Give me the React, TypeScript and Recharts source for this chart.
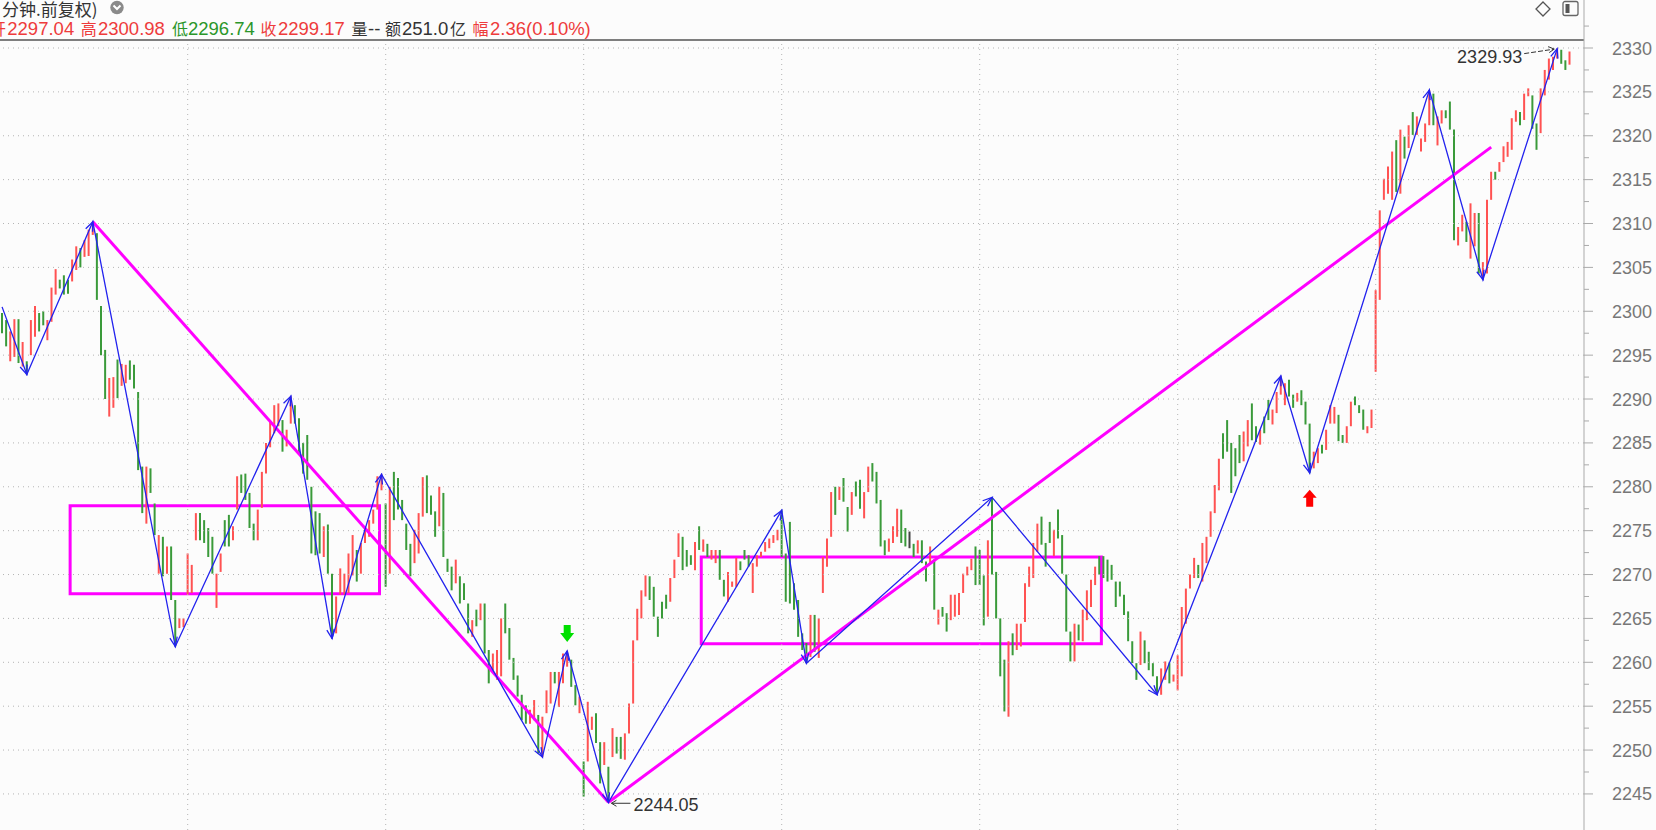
import React from "react";
import {
  ComposedChart,
  Bar,
  Cell,
  Line,
  XAxis,
  YAxis,
  ReferenceLine,
  ReferenceArea,
  ReferenceDot,
} from "recharts";

// 5-minute bars, 8 sessions (first one partial)
const lows = [
  2297.5, 2296.0, 2294.3, 2294.8, 2294.1, 2293.7, 2292.8, 2295.0, 2297.1, 2297.7,
  2298.4, 2296.7, 2298.8, 2301.9, 2302.6, 2301.9, 2302.0, 2303.4, 2304.7, 2305.0,
  2306.2, 2306.3, 2308.7, 2301.3, 2295.0, 2290.0, 2288.0, 2289.0, 2290.1, 2291.5,
  2291.8, 2292.2, 2291.2, 2281.9, 2277.0, 2275.8, 2279.3, 2274.5, 2270.1, 2269.8,
  2270.1, 2267.1, 2261.8, 2263.9, 2264.0, 2267.7, 2267.9, 2273.9, 2273.9, 2273.6,
  2272.0, 2270.1, 2266.2, 2270.3, 2273.2, 2273.2, 2273.9, 2277.4, 2279.3, 2278.5,
  2275.3, 2273.9, 2273.9, 2277.6, 2281.5, 2284.5, 2286.1, 2286.9, 2284.0, 2284.6,
  2287.2, 2287.2, 2283.8, 2281.5, 2280.8, 2272.4, 2272.2, 2272.4, 2272.0, 2270.1,
  2262.7, 2263.3, 2267.7, 2267.7, 2267.9, 2269.9, 2269.2, 2270.1, 2273.6, 2274.3,
  2275.8, 2277.4, 2279.6, 2268.6, 2270.1, 2276.2, 2277.4, 2276.2, 2272.8, 2269.8,
  2271.3, 2272.4, 2276.6, 2277.0, 2276.8, 2274.3, 2275.5, 2272.0, 2270.3, 2268.2,
  2269.0, 2266.7, 2267.1, 2263.3, 2262.9, 2264.1, 2264.8, 2261.0, 2257.6, 2259.1,
  2258.0, 2258.4, 2263.3, 2260.3, 2258.0, 2256.1, 2253.4, 2253.0, 2253.0, 2253.4,
  2249.6, 2249.2, 2254.2, 2255.3, 2257.6, 2254.9, 2257.6, 2259.5, 2257.2, 2255.1,
  2254.2, 2244.7, 2248.7, 2252.3, 2250.8, 2246.2, 2248.3, 2244.05, 2249.2, 2249.6,
  2249.0, 2248.9, 2251.9, 2255.3, 2262.5, 2265.0, 2267.5, 2267.1, 2265.2, 2262.9,
  2265.0, 2266.1, 2266.9, 2269.6, 2272.0, 2270.5, 2270.9, 2271.1, 2270.5, 2272.8,
  2272.6, 2272.0, 2271.7, 2271.3, 2269.4, 2267.5, 2266.9, 2268.6, 2268.6, 2270.5,
  2271.7, 2270.9, 2267.9, 2270.9, 2272.0, 2272.6, 2273.0, 2273.6, 2273.9, 2272.0,
  2266.9, 2266.7, 2266.0, 2262.9, 2261.4, 2259.9, 2260.6, 2261.2, 2260.5, 2267.9,
  2270.9, 2274.3, 2276.8, 2278.5, 2278.3, 2274.9, 2276.8, 2278.9, 2277.5, 2276.4,
  2279.4, 2280.6, 2278.1, 2273.2, 2272.2, 2272.6, 2273.6, 2274.3, 2273.6, 2273.2,
  2273.0, 2272.0, 2272.4, 2271.3, 2269.2, 2271.3, 2266.0, 2264.3, 2265.2, 2263.5,
  2264.8, 2265.2, 2265.4, 2267.9, 2269.9, 2270.5, 2268.8, 2268.8, 2264.2, 2265.2,
  2270.0, 2265.0, 2258.4, 2254.4, 2253.8, 2260.8, 2261.4, 2261.8, 2264.6, 2268.6,
  2269.6, 2272.6, 2273.4, 2270.9, 2273.6, 2272.1, 2274.1, 2270.1, 2263.5, 2260.1,
  2260.1, 2262.5, 2262.4, 2264.8, 2266.3, 2268.8, 2270.0, 2269.6, 2269.2, 2269.4,
  2266.3, 2267.5, 2265.4, 2262.4, 2259.9, 2258.0, 2259.7, 2259.9, 2259.1, 2258.4,
  2256.3, 2256.3, 2258.0, 2257.6, 2257.8, 2256.8, 2258.4, 2264.4, 2268.4, 2269.6,
  2269.6, 2269.2, 2271.3, 2274.3, 2277.0, 2279.6, 2283.2, 2284.0, 2279.3, 2281.2,
  2282.7, 2282.9, 2284.6, 2285.3, 2285.1, 2284.8, 2286.1, 2287.6, 2287.1, 2288.4,
  2290.5, 2289.3, 2290.3, 2289.0, 2289.7, 2289.3, 2287.1, 2281.6, 2282.1, 2282.7,
  2283.8, 2284.2, 2287.2, 2287.2, 2285.2, 2285.0, 2285.0, 2286.9, 2289.3, 2288.4,
  2286.5, 2286.1, 2286.7, 2293.1, 2301.3, 2312.7, 2313.4, 2312.7, 2313.6, 2313.4,
  2317.4, 2318.6, 2320.1, 2320.1, 2318.2, 2319.3, 2321.2, 2321.2, 2318.9, 2321.4,
  2322.0, 2320.7, 2308.1, 2307.5, 2309.1, 2307.9, 2306.0, 2307.4, 2304.3, 2303.6,
  2304.3, 2312.7, 2315.0, 2315.9, 2317.0, 2317.6, 2318.4, 2321.6, 2321.2, 2321.8,
  2324.5, 2320.8, 2318.4, 2320.3, 2324.6, 2326.4, 2327.5, 2328.8, 2328.2, 2327.5,
  2328.1,
];

const highs = [
  2299.8, 2299.0, 2297.7, 2299.1, 2299.1, 2296.5, 2294.3, 2299.0, 2300.6, 2299.8,
  2300.0, 2299.0, 2302.7, 2304.8, 2303.6, 2304.1, 2303.6, 2305.9, 2307.4, 2307.2,
  2308.1, 2309.3, 2310.2, 2308.9, 2300.6, 2295.6, 2292.4, 2292.5, 2294.5, 2294.0,
  2293.9, 2294.4, 2293.9, 2290.8, 2282.3, 2282.3, 2282.1, 2278.1, 2274.5, 2274.3,
  2273.2, 2273.2, 2267.1, 2265.0, 2265.0, 2272.4, 2271.1, 2277.0, 2277.0, 2276.2,
  2275.3, 2274.3, 2270.1, 2272.4, 2276.2, 2276.8, 2275.5, 2281.2, 2281.4, 2281.5,
  2279.3, 2275.8, 2277.4, 2281.7, 2285.0, 2287.5, 2289.3, 2289.5, 2287.6, 2286.5,
  2290.3, 2289.3, 2287.8, 2285.0, 2285.9, 2280.0, 2277.2, 2277.0, 2275.5, 2275.7,
  2270.1, 2267.5, 2270.7, 2270.1, 2272.4, 2274.5, 2272.8, 2273.6, 2275.5, 2276.2,
  2277.4, 2281.2, 2281.4, 2278.1, 2280.0, 2281.7, 2281.0, 2278.5, 2275.8, 2273.5,
  2275.1, 2277.0, 2281.1, 2281.3, 2279.0, 2277.2, 2280.0, 2279.3, 2271.8, 2270.9,
  2271.7, 2269.8, 2269.0, 2266.7, 2264.8, 2266.0, 2266.7, 2266.7, 2261.4, 2261.0,
  2261.4, 2265.0, 2266.7, 2263.9, 2260.5, 2258.5, 2256.3, 2255.1, 2254.6, 2255.7,
  2254.0, 2253.8, 2256.8, 2258.9, 2258.9, 2258.9, 2261.0, 2261.3, 2260.3, 2257.4,
  2256.1, 2248.7, 2255.5, 2253.8, 2254.2, 2250.9, 2250.9, 2248.1, 2252.5, 2251.5,
  2251.5, 2251.9, 2255.3, 2262.5, 2266.1, 2268.2, 2269.9, 2269.8, 2268.6, 2265.2,
  2266.9, 2267.7, 2269.6, 2271.7, 2274.7, 2274.3, 2272.8, 2272.2, 2273.7, 2275.5,
  2274.0, 2273.5, 2272.8, 2272.8, 2272.8, 2269.4, 2270.3, 2269.2, 2271.9, 2271.5,
  2272.8, 2272.2, 2271.3, 2272.2, 2272.6, 2273.7, 2274.1, 2274.5, 2275.1, 2277.3,
  2272.4, 2276.0, 2269.0, 2267.1, 2263.3, 2262.2, 2265.4, 2265.4, 2265.0, 2272.0,
  2274.1, 2279.4, 2280.0, 2280.0, 2281.0, 2277.7, 2279.4, 2280.6, 2280.8, 2279.4,
  2282.3, 2282.7, 2281.7, 2278.5, 2273.9, 2274.1, 2275.5, 2277.5, 2277.4, 2275.3,
  2274.9, 2273.5, 2273.9, 2273.9, 2271.5, 2273.2, 2271.7, 2266.0, 2266.3, 2265.6,
  2267.7, 2267.7, 2267.9, 2270.1, 2270.9, 2271.8, 2273.2, 2272.8, 2269.9, 2273.9,
  2278.8, 2270.3, 2265.0, 2260.3, 2262.4, 2263.3, 2264.4, 2264.4, 2269.0, 2270.9,
  2273.6, 2275.8, 2276.6, 2273.6, 2276.0, 2275.1, 2277.4, 2274.5, 2270.0, 2263.5,
  2264.4, 2264.3, 2266.0, 2268.2, 2269.4, 2270.9, 2272.1, 2272.1, 2271.7, 2271.1,
  2269.2, 2269.2, 2267.7, 2265.8, 2262.4, 2259.9, 2263.5, 2262.5, 2261.2, 2259.9,
  2258.4, 2259.3, 2260.1, 2259.9, 2258.6, 2260.8, 2266.3, 2268.4, 2270.0, 2271.9,
  2271.1, 2273.6, 2274.3, 2277.2, 2280.2, 2283.2, 2286.1, 2287.6, 2285.0, 2284.4,
  2285.9, 2286.3, 2287.6, 2289.5, 2286.9, 2286.5, 2288.0, 2289.9, 2288.8, 2290.8,
  2292.6, 2291.8, 2292.2, 2290.5, 2290.7, 2291.0, 2289.7, 2287.2, 2284.0, 2284.4,
  2284.8, 2286.5, 2289.3, 2289.1, 2288.2, 2285.9, 2286.9, 2289.7, 2290.3, 2289.3,
  2288.8, 2286.9, 2288.8, 2302.4, 2311.5, 2315.1, 2316.5, 2318.2, 2319.5, 2320.7,
  2319.9, 2321.2, 2322.7, 2322.2, 2319.7, 2321.4, 2325.2, 2324.8, 2322.2, 2322.9,
  2322.9, 2323.9, 2320.7, 2309.6, 2311.0, 2310.2, 2312.3, 2311.2, 2311.2, 2305.6,
  2312.7, 2315.9, 2315.9, 2317.0, 2318.8, 2319.3, 2322.0, 2322.9, 2322.7, 2324.8,
  2325.4, 2324.6, 2321.4, 2325.4, 2327.5, 2328.8, 2329.0, 2329.93, 2329.8, 2328.6,
  2329.6,
];

// r = up (red), g = down (green), k = flat
const dirs = (
  "ggrrgrgrrg" + "grrrgggrrg" + "rrrgggrrgr" + "rggggrggrg" + "rggrrrrrgg" +
  "ggrrggrrgg" + "ggrrrrrrgr" + "rgggggggrg" + "grrrrrgrrr" + "rrrgrggggg" +
  "rrrgggrggg" + "rgggrgrggr" + "rrggggggrr" + "grrrgrrrgg" + "rgrrggrgrg" +
  "grrrrrrggg" + "ggrrrgggrg" + "rgrrggrrrg" + "ggrrrrrrrg" + "ggggggrgrr" +
  "rrgrggrggr" + "rggggrrrgg" + "kgrggrgrgg" + "rrrrrrgggr" + "ggggrgrrrr" +
  "rrgggrgggg" + "rgrrrrgggg" + "ggggggrggg" + "grrgrrrrrr" + "grrrrrgggg" +
  "grrggrggrr" + "rrggrgggrr" + "grrrggrrgg" + "grrrrrrrgr" + "grgrrrrgrr" +
  "gggrrgrrgr" + "rrgrrrrrgr" + "rggrrrrrgg" + "r"
).split("");

// zigzag turning points (bar index, price)
const zzIdx = [0, 6, 22, 42, 70, 80, 92, 131, 137, 147, 189, 195, 240, 280, 310, 317, 346, 359, 377];
const zzVal = [
  2300.5, 2292.8, 2310.2, 2261.8, 2290.3, 2262.7, 2281.4, 2249.2, 2261.3, 2244.05,
  2277.3, 2259.9, 2278.8, 2256.3, 2292.6, 2281.6, 2325.2, 2303.6, 2329.93,
];

const dayStarts = [45, 93, 141, 189, 237, 285, 333];
const majorTicks = [
  2245, 2250, 2255, 2260, 2265, 2270, 2275, 2280, 2285,
  2290, 2295, 2300, 2305, 2310, 2315, 2320, 2325, 2330,
];
const allTicks = [...majorTicks, ...majorTicks.map((v) => v + 2.5)].sort((a, b) => a - b);

const SLOTS = 384;
const Y_MIN = 2240.89;
const Y_MAX = 2335.47;

const RED = "#ff5252";
const GREEN = "#3a9a3a";
const BLUE = "#2222ee";
const MAGENTA = "#ff00ff";
const TXT_RED = "#ee3b3b";
const TXT_GREEN = "#2a962a";
const FONT = "'Liberation Sans', 'Noto Sans CJK SC', sans-serif";
const CJK = "'Noto Sans CJK SC', sans-serif";

const data = Array.from({ length: SLOTS }, (_, i) => {
  const row: any = { i };
  if (i < lows.length) {
    row.range = [lows[i], highs[i]];
    row.c = dirs[i];
  }
  const k = zzIdx.indexOf(i);
  if (k >= 0) row.zz = zzVal[k];
  return row;
});

const barColor = (c: string) => (c === "r" ? RED : c === "g" ? GREEN : "#444");

const ZigDot = (p: any) => {
  const { cx, cy, index, points, value, payload } = p;
  const key = `zd-${index}`;
  if (value == null || cx == null || cy == null) return <g key={key} />;
  const k = zzIdx.indexOf(payload?.i);
  if (k <= 0) return <g key={key} />;
  let px = cx - (zzIdx[k] - zzIdx[k - 1]) * 4.125;
  let py = cy + (zzVal[k] - zzVal[k - 1]) * 8.776;
  if (Array.isArray(points)) {
    for (let j = index - 1; j >= 0; j--) {
      const q = points[j];
      if (q && q.value != null && q.y != null) {
        px = q.x;
        py = q.y;
        break;
      }
    }
  }
  const a = Math.atan2(cy - py, cx - px);
  const L = 10;
  const s = 0.38;
  const x1 = cx - L * Math.cos(a - s);
  const y1 = cy - L * Math.sin(a - s);
  const x2 = cx - L * Math.cos(a + s);
  const y2 = cy - L * Math.sin(a + s);
  return (
    <polyline
      key={key}
      points={`${x1},${y1} ${cx},${cy} ${x2},${y2}`}
      fill="none"
      stroke={BLUE}
      strokeWidth={1.3}
    />
  );
};

const AxisTick = (p: any) => {
  const { x, y, payload } = p;
  const major = majorTicks.includes(payload.value);
  return (
    <g>
      <line x1={x} x2={x + (major ? 9 : 5)} y1={y} y2={y} stroke="#aaa" />
      {major && (
        <text x={x + 28} y={y + 6.5} fill="#777" fontSize={18} fontFamily={FONT}>
          {payload.value}
        </text>
      )}
    </g>
  );
};

const DownArrow = ({ cx, cy }: any) => (
  <polygon
    points={`${cx - 3.5},${cy - 26} ${cx + 3.5},${cy - 26} ${cx + 3.5},${cy - 18} ${cx + 7},${cy - 18} ${cx},${cy - 9} ${cx - 7},${cy - 18} ${cx - 3.5},${cy - 18}`}
    fill="#00e000"
  />
);

const UpArrow = ({ cx, cy }: any) => (
  <polygon
    points={`${cx},${cy + 17} ${cx + 7},${cy + 25} ${cx + 3.5},${cy + 25} ${cx + 3.5},${cy + 34} ${cx - 3.5},${cy + 34} ${cx - 3.5},${cy + 25} ${cx - 7},${cy + 25}`}
    fill="#ff0000"
  />
);

const HighLabel = ({ cx, cy }: any) => (
  <g>
    <text x={cx - 35} y={cy + 14} textAnchor="end" fill="#333" fontSize={18} fontFamily={FONT}>
      2329.93
    </text>
    <line x1={cx - 33} y1={cy + 5} x2={cx - 3} y2={cy + 0.5} stroke="#333" strokeDasharray="5 2" />
    <polyline
      points={`${cx - 9},${cy - 2} ${cx - 3},${cy + 0.5} ${cx - 8},${cy + 4}`}
      fill="none"
      stroke="#333"
    />
  </g>
);

const LowLabel = ({ cx, cy }: any) => (
  <g>
    <line x1={cx + 22} y1={cy + 1} x2={cx + 3} y2={cy + 1} stroke="#333" />
    <polyline
      points={`${cx + 8},${cy - 2} ${cx + 3},${cy + 1} ${cx + 8},${cy + 4}`}
      fill="none"
      stroke="#333"
    />
    <text x={cx + 25} y={cy + 9} fill="#333" fontSize={18} fontFamily={FONT}>
      2244.05
    </text>
  </g>
);

export default function App() {
  return (
    <div
      style={{
        position: "absolute",
        left: 0,
        top: 0,
        width: 1656,
        height: 830,
        overflow: "hidden",
        background: "#fcfcfc",
      }}
    >
      <ComposedChart
        width={1656}
        height={830}
        data={data}
        margin={{ top: 0, right: 0, bottom: 0, left: 0 }}
      >
        <XAxis dataKey="i" type="category" hide />
        <YAxis
          orientation="right"
          width={72}
          domain={[Y_MIN, Y_MAX]}
          allowDataOverflow
          ticks={allTicks}
          interval={0}
          tickSize={0}
          tickMargin={0}
          tickLine={false}
          axisLine={{ stroke: "#aaa" }}
          tick={<AxisTick />}
        />
        {majorTicks.map((v) => (
          <ReferenceLine key={`h${v}`} y={v} stroke="#b4b4b4" strokeDasharray="1 4" />
        ))}
        {dayStarts.map((d) => (
          <ReferenceLine
            key={`v${d}`}
            segment={[
              { x: d, y: Y_MIN },
              { x: d, y: 2330.7 },
            ]}
            stroke="#b4b4b4"
            strokeDasharray="1 4"
          />
        ))}
        <ReferenceLine y={2330.91} stroke="#555" strokeWidth={1.5} />

        <Bar dataKey="range" barSize={2} isAnimationActive={false}>
          {data.map((d, i) => (
            <Cell key={`c${i}`} fill={barColor(d.c)} />
          ))}
        </Bar>

        <ReferenceArea
          x1={17}
          x2={91}
          y1={2267.8}
          y2={2277.85}
          fill="none"
          fillOpacity={0}
          stroke={MAGENTA}
          strokeWidth={3}
          strokeOpacity={1}
        />
        <ReferenceArea
          x1={170}
          x2={266}
          y1={2262.1}
          y2={2272.0}
          fill="none"
          fillOpacity={0}
          stroke={MAGENTA}
          strokeWidth={3}
          strokeOpacity={1}
        />
        <ReferenceLine
          segment={[
            { x: 22, y: 2310.2 },
            { x: 147, y: 2244.05 },
          ]}
          stroke={MAGENTA}
          strokeWidth={3}
        />
        <ReferenceLine
          segment={[
            { x: 147, y: 2244.05 },
            { x: 361, y: 2318.7 },
          ]}
          stroke={MAGENTA}
          strokeWidth={3}
        />

        <Line
          dataKey="zz"
          type="linear"
          connectNulls
          stroke={BLUE}
          strokeWidth={1.3}
          dot={ZigDot}
          activeDot={false}
          isAnimationActive={false}
        />

        <ReferenceDot x={137} y={2261.3} r={0} shape={DownArrow} />
        <ReferenceDot x={317} y={2281.6} r={0} shape={UpArrow} />
        <ReferenceDot x={377} y={2329.93} r={0} shape={HighLabel} />
        <ReferenceDot x={147} y={2244.05} r={0} shape={LowLabel} />
      </ComposedChart>

      <svg
        width={1656}
        height={40}
        style={{ position: "absolute", left: 0, top: 0, pointerEvents: "none" }}
      >
        <text x={2} y={15.5} fill="#333" fontSize={17} fontFamily={CJK}>
          分钟.前复权)
        </text>
        <circle cx={117} cy={7.5} r={6.7} fill="#8a8a8a" />
        <polyline points="113.5,5.5 117,9 120.5,5.5" fill="none" stroke="#fff" strokeWidth={2} />

        <g fontFamily={CJK} fontSize={16}>
          <text x={-10} y={35} fill={TXT_RED}>开</text>
          <text x={80.7} y={35} fill={TXT_RED}>高</text>
          <text x={172} y={35} fill={TXT_GREEN}>低</text>
          <text x={260.5} y={35} fill={TXT_RED}>收</text>
          <text x={351.5} y={35} fill="#333">量</text>
          <text x={385} y={35} fill="#333">额</text>
          <text x={450} y={35} fill="#333">亿</text>
          <text x={472.5} y={35} fill={TXT_RED}>幅</text>
        </g>
        <g fontFamily={FONT} fontSize={18.5}>
          <text x={7.3} y={35} fill={TXT_RED}>2297.04</text>
          <text x={98} y={35} fill={TXT_RED}>2300.98</text>
          <text x={188} y={35} fill={TXT_GREEN}>2296.74</text>
          <text x={278} y={35} fill={TXT_RED}>2299.17</text>
          <text x={368} y={35} fill="#333">--</text>
          <text x={402} y={35} fill="#333">251.0</text>
          <text x={490} y={35} fill={TXT_RED}>2.36(0.10%)</text>
        </g>

        <polygon points="1543,2 1550,9 1543,16 1536,9" fill="none" stroke="#555" strokeWidth={1.3} />
        <rect x={1563} y={1.5} width={15} height={14} rx={2} fill="none" stroke="#666" strokeWidth={1.3} />
        <rect x={1565.5} y={4} width={4} height={9} fill="#555" />
      </svg>
    </div>
  );
}
